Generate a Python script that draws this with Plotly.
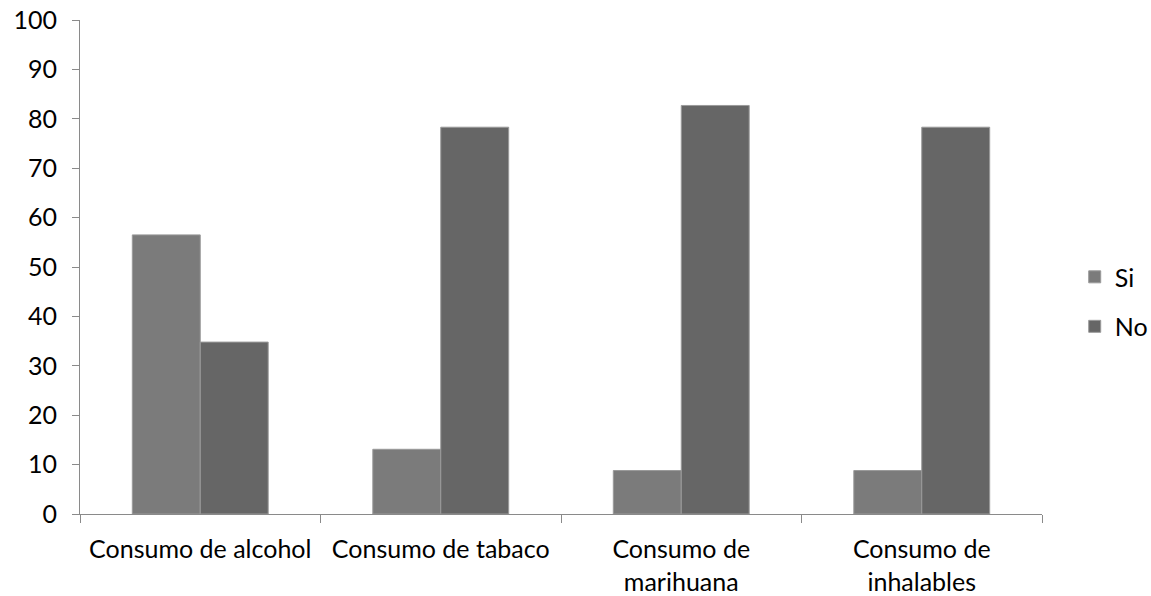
import plotly.graph_objects as go

categories = ["Consumo de alcohol", "Consumo de tabaco", "Consumo de<br>marihuana", "Consumo de<br>inhalables"]
si_values = [56.5, 13.1, 8.8, 8.8]
no_values = [34.8, 78.3, 82.7, 78.3]
y_ticks = list(range(0, 101, 10))

fig = go.Figure()
fig.add_trace(go.Bar(name="Si", x=categories, y=si_values, marker=dict(color="#7b7b7b", line=dict(color="#9a9a9a", width=1)), legendgroup="a"))
fig.add_trace(go.Bar(name="No", x=categories, y=no_values, marker=dict(color="#666666", line=dict(color="#9a9a9a", width=1)), legendgroup="b"))

fig.update_layout(
    width=1151, height=596,
    margin=dict(l=80, r=109, t=20, b=82, autoexpand=False),
    paper_bgcolor="white", plot_bgcolor="white",
    barmode="group", bargap=0.435, bargroupgap=0,
    font=dict(family="Lato, Open Sans, sans-serif", size=25, color="#000000"),
    legend=dict(x=1.034, y=0.43, xanchor="left", yanchor="middle", tracegroupgap=14,
                font=dict(size=25), bgcolor="rgba(0,0,0,0)", itemwidth=30),
    showlegend=True,
)
fig.update_xaxes(showline=True, linecolor="#8a8a8a", linewidth=1, ticks="outside", tickson="boundaries",
                 ticklen=8, tickcolor="#8a8a8a", showgrid=False, tickfont=dict(size=25),
                 ticklabelstandoff=13, automargin=False)
fig.update_yaxes(range=[0, 100], tickvals=y_ticks, showline=True, linecolor="#8a8a8a", linewidth=1,
                 ticks="outside", ticklen=7, tickcolor="#8a8a8a", showgrid=False, zeroline=False,
                 tickfont=dict(size=25), ticklabelstandoff=10, automargin=False)

fig.write_html("out.html")
